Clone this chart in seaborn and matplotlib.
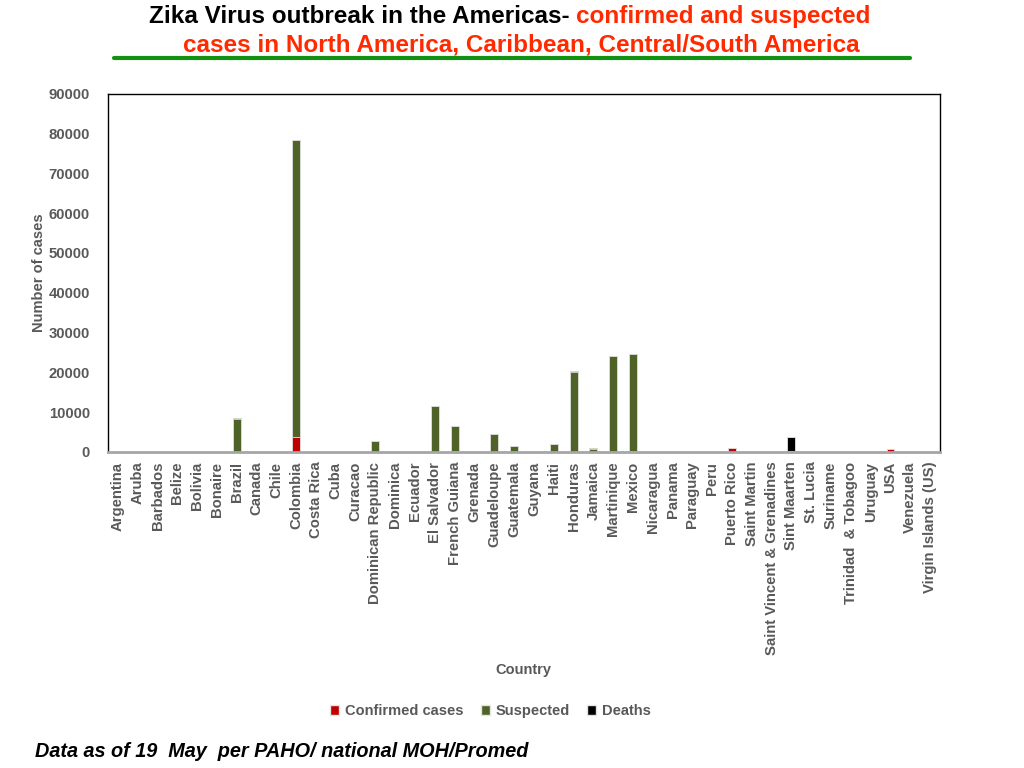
import matplotlib
matplotlib.use('Agg')
import matplotlib.pyplot as plt
import numpy as np
import pandas as pd
import seaborn as sns
from matplotlib.patches import Patch

# Data
countries = ['Argentina', 'Aruba', 'Barbados', 'Belize', 'Bolivia', 'Bonaire', 'Brazil',
             'Canada', 'Chile', 'Colombia', 'Costa Rica', 'Cuba', 'Curacao',
             'Dominican Republic', 'Dominica', 'Ecuador', 'El Salvador', 'French Guiana',
             'Grenada', 'Guadeloupe', 'Guatemala', 'Guyana', 'Haiti', 'Honduras',
             'Jamaica', 'Martinique', 'Mexico', 'Nicaragua', 'Panama', 'Paraguay', 'Peru',
             'Puerto Rico', 'Saint Martin', 'Saint Vincent & Grenadines', 'Sint Maarten',
             'St. Lucia', 'Suriname', 'Trinidad  & Tobagoo', 'Uruguay', 'USA',
             'Venezuela', 'Virgin Islands (US)']
confirmed = [40, 40, 20, 40, 40, 40, 100, 40, 40, 3850, 40, 40, 20,
             20, 20, 30, 60, 250, 40, 100, 100, 30, 20, 20,
             20, 60, 150, 60, 60, 20, 30, 1100, 40, 20, 250,
             40, 30, 40, 20, 700, 40, 40]
suspected = [0, 0, 30, 0, 0, 0, 8150, 0, 0, 74550, 0, 0, 30,
             2700, 0, 40, 11450, 6150, 0, 4400, 1300, 0, 1950, 20100,
             800, 24100, 24350, 0, 0, 30, 20, 0, 0, 0, 100,
             0, 40, 0, 0, 0, 0, 0]
deaths = [0, 0, 0, 0, 0, 0, 200, 0, 0, 0, 0, 0, 0,
          0, 0, 0, 0, 0, 0, 0, 0, 0, 0, 250,
          300, 0, 0, 0, 0, 0, 0, 0, 0, 0, 3300,
          0, 0, 0, 0, 0, 0, 0]

RED = '#C00000'
GREEN = '#4F6228'
BLACK = '#000000'
GREY = '#595959'

df = pd.DataFrame({'country': countries, 'confirmed': confirmed,
                   'suspected': suspected, 'deaths': deaths})
df['lvl2'] = df['confirmed'] + df['suspected']
df['lvl3'] = df['lvl2'] + df['deaths']

sns.set_style('white')
plt.rcParams['font.family'] = ['Liberation Sans', 'DejaVu Sans']

fig = plt.figure(figsize=(10.24, 7.68), dpi=100, facecolor='white')
ax = fig.add_axes([0.1055, 0.4115, 0.8125, 0.4665])

# stacked bars drawn as overlapping cumulative totals
for col, color in [('lvl3', BLACK), ('lvl2', GREEN), ('confirmed', RED)]:
    sns.barplot(data=df, x='country', y=col, color=color, width=0.4,
                edgecolor='#e4e4e4', linewidth=0.6, ax=ax, order=countries,
                saturation=1, errorbar=None)

ax.set_xlim(-0.5, len(countries) - 0.5)
ax.set_ylim(0, 90000)
ax.set_yticks(np.arange(0, 90001, 10000))
ax.set_yticklabels([str(v) for v in range(0, 90001, 10000)])
ax.tick_params(axis='both', length=0, labelsize=10.7, labelcolor=GREY)
ax.tick_params(axis='y', pad=13)
ax.tick_params(axis='x', pad=7)
for lbl in ax.get_xticklabels():
    lbl.set_rotation(90)
    lbl.set_fontweight('bold')
for lbl in ax.get_yticklabels():
    lbl.set_fontweight('bold')

for side in ['left', 'top', 'right']:
    ax.spines[side].set_color('black')
    ax.spines[side].set_linewidth(1.0)
    ax.spines[side].set_visible(True)
ax.spines['bottom'].set_color('#a6a6a6')
ax.spines['bottom'].set_linewidth(2.0)

ax.set_xlabel('')
ax.set_ylabel('Number of cases', fontsize=10.5, fontweight='bold', color=GREY, labelpad=2)
fig.text(0.511, 0.127, 'Country', ha='center', va='center', fontsize=10.5,
         fontweight='bold', color=GREY)

# legend
handles = [Patch(facecolor=RED, edgecolor='#e4e4e4', label='Confirmed cases'),
           Patch(facecolor=GREEN, edgecolor='#e4e4e4', label='Suspected'),
           Patch(facecolor=BLACK, edgecolor='#e4e4e4', label='Deaths')]
leg = fig.legend(handles=handles, loc='center', bbox_to_anchor=(0.479, 0.074), ncol=3,
                 frameon=False, handlelength=0.6, handleheight=0.6, handletextpad=0.4,
                 columnspacing=1.2, prop={'weight': 'bold', 'size': 10.5})
for t in leg.get_texts():
    t.set_color(GREY)

# title in two colours
tfont = ['Liberation Sans', 'DejaVu Sans']
t1 = fig.text(0, 0.979, 'Zika Virus outbreak in the Americas- ', ha='left', va='center',
              fontsize=17.5, fontweight='bold', color='black', family=tfont)
t2 = fig.text(0, 0.979, 'confirmed and suspected', ha='left', va='center',
              fontsize=17.5, fontweight='bold', color='#FF2A00', family=tfont)
fig.canvas.draw()
r = fig.canvas.get_renderer()
w1 = t1.get_window_extent(r).width / fig.bbox.width
w2 = t2.get_window_extent(r).width / fig.bbox.width
x0 = 0.498 - (w1 + w2) / 2
t1.set_x(x0)
t2.set_x(x0 + w1)
fig.text(0.509, 0.942, 'cases in North America, Caribbean, Central/South America',
         ha='center', va='center', fontsize=17.5, fontweight='bold', color='#FF2A00',
         family=tfont)
fig.add_artist(plt.Line2D([0.111, 0.889], [0.924, 0.924], color='#129112', lw=3,
                          transform=fig.transFigure))

fig.text(0.034, 0.021, 'Data as of 19  May  per PAHO/ national MOH/Promed', ha='left',
         va='center', fontsize=14.3, fontweight='bold', style='italic', color='black')

fig.savefig('out.png', dpi=100, facecolor='white')
